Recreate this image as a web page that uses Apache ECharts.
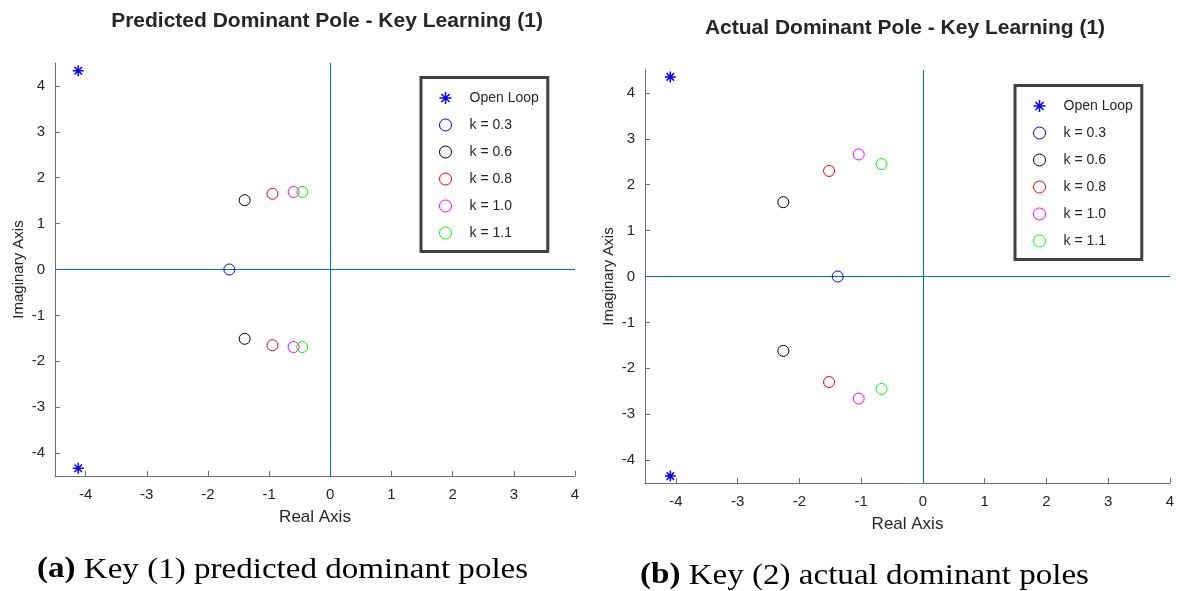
<!DOCTYPE html>
<html><head><meta charset="utf-8">
<script src="https://cdn.jsdelivr.net/npm/echarts@6/dist/echarts.min.js"></script>
<style>html,body{margin:0;padding:0;background:#fff}#c{width:1186px;height:591px}</style>
</head><body><div id="c"></div>
<script>
// ---- data ----
const seriesNames = ['Open Loop', 'k = 0.3', 'k = 0.6', 'k = 0.8', 'k = 1.0', 'k = 1.1'];
const tickValues = [-4, -3, -2, -1, 0, 1, 2, 3, 4];
const titles = ['Predicted Dominant Pole - Key Learning (1)', 'Actual Dominant Pole - Key Learning (1)'];
const captions = ['{b|(a)} Key (1) predicted dominant poles', '{b|(b)} Key (2) actual dominant poles'];
// predicted (left)
const predOpenLoop = [[-4.12, 4.33], [-4.12, -4.33]];
const predK03 = [[-1.65, 0]];
const predK06 = [[-1.40, 1.51], [-1.40, -1.51]];
const predK08 = [[-0.945, 1.65], [-0.945, -1.65]];
const predK10 = [[-0.60, 1.69], [-0.60, -1.69]];
const predK11 = [[-0.46, 1.69], [-0.46, -1.69]];
// actual (right)
const actOpenLoop = [[-4.09, 4.35], [-4.09, -4.35]];
const actK03 = [[-1.38, 0]];
const actK06 = [[-2.26, 1.62], [-2.26, -1.62]];
const actK08 = [[-1.52, 2.30], [-1.52, -2.30]];
const actK10 = [[-1.04, 2.66], [-1.04, -2.66]];
const actK11 = [[-0.67, 2.45], [-0.67, -2.45]];

// ---- styles ----
const colors = ['#0000FF', '#0000FF', '#000000', '#FF0000', '#FF00FF', '#00FF00'];
const STAR = 'path://M5 0 L5 10 M0 5 L10 5 M1.6 1.6 L8.4 8.4 M8.4 1.6 L1.6 8.4';
const FONT = 'Liberation Sans, Arial, sans-serif';
const SERIF = 'Liberation Serif, serif';
const TXT = '#262626';
const AXC = '#6e6e6e';
const REF = '#0072BD';

const predData = [predOpenLoop, predK03, predK06, predK08, predK10, predK11];
const actData = [actOpenLoop, actK03, actK06, actK08, actK10, actK11];

function mkSeries(dataSets, gi) {
  return dataSets.map((d, i) => ({
    name: seriesNames[i], type: 'scatter', xAxisIndex: gi, yAxisIndex: gi,
    data: d, symbol: i === 0 ? STAR : 'circle', symbolSize: 11,
    itemStyle: { color: 'none', borderColor: colors[i], borderWidth: i === 0 ? 1.5 : 1, opacity: 1 },
    z: 12, silent: true
  }));
}
function refLines(gi) {
  const ls = { color: REF, width: 1, type: 'solid', opacity: 1 };
  return { name: 'ref' + gi, type: 'scatter', xAxisIndex: gi, yAxisIndex: gi, data: [], silent: true, z: 10,
    markLine: { silent: true, symbol: 'none', animation: false, label: { show: false },
      lineStyle: ls, emphasis: { disabled: true },
      data: [{ xAxis: 0, lineStyle: ls }, { yAxis: 0, lineStyle: ls }] } };
}
function xAx(gi) {
  return { gridIndex: gi, type: 'value', min: -4.5, max: 4, name: 'Real Axis', nameLocation: 'middle', nameGap: 33,
    nameTextStyle: { fontFamily: FONT, fontSize: 17, color: TXT },
    axisLine: { show: true, onZero: false, lineStyle: { color: AXC, width: 1 } },
    axisTick: { show: true, inside: true, length: 5, customValues: tickValues, lineStyle: { color: AXC } },
    axisLabel: { customValues: tickValues, fontFamily: FONT, fontSize: 15, color: TXT, margin: 11 },
    splitLine: { show: false } };
}
function yAx(gi) {
  return { gridIndex: gi, type: 'value', min: -4.5, max: 4.5, name: 'Imaginary Axis', nameLocation: 'middle', nameGap: 29,
    nameTextStyle: { fontFamily: FONT, fontSize: 15, color: TXT },
    axisLine: { show: true, onZero: false, lineStyle: { color: AXC, width: 1 } },
    axisTick: { show: true, inside: true, length: 5, customValues: tickValues, lineStyle: { color: AXC } },
    axisLabel: { customValues: tickValues, fontFamily: FONT, fontSize: 15, color: TXT, margin: 10 },
    splitLine: { show: false } };
}
function legendItems() {
  return seriesNames.map((n, i) => ({ name: n, icon: i === 0 ? STAR : 'circle',
    itemStyle: { color: 'none', borderColor: colors[i], borderWidth: i === 0 ? 1.5 : 1 } }));
}
function mkLegend(left, top) {
  return { orient: 'vertical', left: left, top: top, data: legendItems(), selectedMode: false,
    backgroundColor: '#fff', borderColor: '#404040', borderWidth: 3, padding: [12, 9, 10, 16],
    itemWidth: 12, itemHeight: 12, itemGap: 10, z: 20,
    textStyle: { fontFamily: FONT, fontSize: 14, color: TXT, padding: [0, 0, 0, 13], lineHeight: 14 } };
}
function caption(i, x, y) {
  return { type: 'text', x: x, y: y, scaleX: 1.14, originX: 0, style: { text: captions[i], fontFamily: SERIF, fontSize: 29, fill: '#000', align: 'left', verticalAlign: 'middle',
    rich: { b: { fontFamily: SERIF, fontWeight: 'bold', fontSize: 29, fill: '#000' } } } };
}

const chart = echarts.init(document.getElementById('c'), null, { renderer: 'canvas' });
chart.setOption({
  animation: false,
  backgroundColor: '#fff',
  grid: [
    { left: 55, top: 63, width: 520, height: 413 },
    { left: 645, top: 70, width: 525, height: 413 }
  ],
  xAxis: [xAx(0), xAx(1)],
  yAxis: [yAx(0), yAx(1)],
  legend: [mkLegend(421, 77.5), mkLegend(1015, 85.5)],
  series: [...mkSeries(predData, 0), refLines(0), ...mkSeries(actData, 1), refLines(1)],
  graphic: [
    { type: 'text', x: 327, y: 21, style: { text: titles[0], fontFamily: FONT, fontWeight: 'bold', fontSize: 21, fill: TXT, align: 'center', verticalAlign: 'middle' } },
    { type: 'text', x: 905, y: 28, style: { text: titles[1], fontFamily: FONT, fontWeight: 'bold', fontSize: 21, fill: TXT, align: 'center', verticalAlign: 'middle' } },
    caption(0, 37, 570),
    caption(1, 640, 576)
  ]
});
</script></body></html>
